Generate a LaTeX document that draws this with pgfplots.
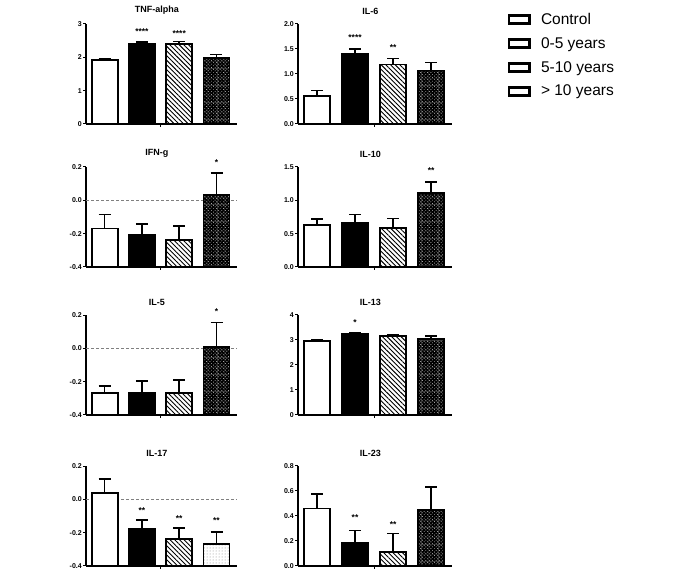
\documentclass[border=0pt]{standalone}
\usepackage{fontspec}
\setmainfont{Liberation Sans}
\usepackage{pgfplots}
\pgfplotsset{compat=1.18}
\usepackage{pgfplotstable}
\usetikzlibrary{patterns,patterns.meta}

\pgfdeclarepatternformonly{holes}{\pgfpoint{-0.1pt}{-0.1pt}}{\pgfpoint{4.1pt}{4.1pt}}{\pgfpoint{3.4pt}{3.4pt}}{%
  \pgfpathrectangle{\pgfpoint{-0.1pt}{-0.1pt}}{\pgfpoint{3.6pt}{3.6pt}}%
  \pgfpathcircle{\pgfpoint{0.85pt}{0.85pt}}{0.7pt}%
  \pgfpathcircle{\pgfpoint{2.55pt}{2.55pt}}{0.7pt}%
  \pgfseteorule
  \pgfusepath{fill}%
}

\pgfplotstableread{
x y e
1 1.91 0.06
2 2.41 0.05
3 2.40 0.08
4 1.99 0.10
}\tnf
\pgfplotstableread{
x y e
1 0.56 0.11
2 1.40 0.10
3 1.19 0.12
4 1.07 0.16
}\ilsix
\pgfplotstableread{
x y e
1 -0.169 0.084
2 -0.209 0.066
3 -0.240 0.087
4 0.034 0.131
}\ifng
\pgfplotstableread{
x y e
1 0.627 0.093
2 0.667 0.123
3 0.587 0.143
4 1.104 0.175
}\ilten
\pgfplotstableread{
x y e
1 -0.270 0.045
2 -0.270 0.073
3 -0.270 0.081
4 0.010 0.145
}\ilfive
\pgfplotstableread{
x y e
1 2.95 0.05
2 3.23 0.04
3 3.15 0.05
4 3.05 0.12
}\ilthirteen
\pgfplotstableread{
x y e
1 0.038 0.083
2 -0.177 0.052
3 -0.240 0.069
4 -0.268 0.073
}\ilseventeen
\pgfplotstableread{
x y e
1 0.46 0.115
2 0.186 0.099
3 0.115 0.145
4 0.45 0.18
}\iltwentythree

\tikzset{star/.style={font=\fontsize{8.5}{9}\selectfont\bfseries, inner sep=0pt}}
\pgfplotsset{
  panel/.style={
    scale only axis, width=151pt, height=100pt,
    anchor=south west,
    axis x line*=bottom, axis y line*=left,
    axis line style={-, line width=1.5pt},
    xmin=0.5, xmax=4.55,
    xtick={2.5}, xticklabels={},
    major tick length=3pt,
    tick style={line width=1pt, black},
    tick align=outside,
    ybar, bar width=26pt,
    yticklabel style={font=\fontsize{7}{8}\selectfont\bfseries, inner sep=1pt},
    title style={font=\fontsize{9}{10}\selectfont\bfseries, at={(0.47,1)}, anchor=south, yshift=3pt, inner sep=0pt},
    clip=false,
  },
  bb/.style={bar shift=0pt, draw=black, line width=1.8pt, forget plot,
    restrict x to domain=#1:#1,
    error bars/y dir=plus, error bars/y explicit,
    error bars/error bar style={line width=1.6pt, black, solid},
    error bars/error mark options={rotate=90, line width=1.6pt, mark size=6pt, black, solid}},
  zeroline/.style={sharp plot, densely dashed, gray, line width=0.5pt, forget plot, no markers},
  lgbox/.style={legend image code/.code={\draw[line width=2.6pt, fill=white] (0pt,-4pt) rectangle (20.4pt,4pt); \path (30pt,0pt);}},
}

\newcommand{\fourbars}[3]{%
  \addplot[bb=1, fill=white] table[x=x, y expr=\thisrow{y}+#2, y error=e]{#1};
  \addplot[bb=2, fill=black] table[x=x, y expr=\thisrow{y}+#2, y error=e]{#1};
  \addplot[bb=3, pattern={Lines[angle=-45,distance=3.3pt,line width=0.9pt]}] table[x=x, y expr=\thisrow{y}+#2, y error=e]{#1};
  \addplot[bb=4, #3] table[x=x, y expr=\thisrow{y}+#2, y error=e]{#1};
}

\begin{document}
\begin{tikzpicture}
\useasboundingbox (0pt,0pt) rectangle (685pt,575pt);

% TNF-alpha
\begin{axis}[panel, at={(86pt,451pt)}, title={TNF-alpha},
  ymin=0, ymax=3, ytick={0,1,2,3}, yticklabels={0,1,2,3},
  legend style={at={(axis description cs:2.79,1.13)}, anchor=north west, draw=none, fill=none,
    font=\fontsize{15.5}{17}\selectfont, row sep=7.5pt, cells={anchor=west}, inner sep=0pt},
]
\fourbars{\tnf}{0}{pattern=holes}
\node[star] at (axis cs:2,2.77) {****};
\node[star] at (axis cs:3,2.71) {****};
\addlegendimage{lgbox}
\addlegendentry{Control}
\addlegendimage{lgbox}
\addlegendentry{0-5 years}
\addlegendimage{lgbox}
\addlegendentry{5-10 years}
\addlegendimage{lgbox}
\addlegendentry{> 10 years}
\end{axis}

% IL-6
\begin{axis}[panel, at={(298pt,451pt)}, width=154pt, title={IL-6},
  ymin=0, ymax=2, ytick={0,0.5,1,1.5,2}, yticklabels={0.0,0.5,1.0,1.5,2.0}]
\fourbars{\ilsix}{0}{pattern=holes}
\node[star] at (axis cs:2,1.73) {****};
\node[star] at (axis cs:3,1.53) {**};
\end{axis}

% IFN-g
\begin{axis}[panel, at={(86pt,308pt)}, title={IFN-g},
  ymin=0, ymax=0.6, ytick={0,0.2,0.4,0.6}, yticklabels={-0.4,-0.2,0.0,0.2}]
\addplot[zeroline] coordinates {(0.5,0.4) (4.55,0.4)};
\fourbars{\ifng}{0.4}{pattern=holes}
\node[star] at (axis cs:4,0.625) {*};
\end{axis}

% IL-10
\begin{axis}[panel, at={(298pt,308pt)}, width=154pt, title={IL-10},
  ymin=0, ymax=1.5, ytick={0,0.5,1,1.5}, yticklabels={0.0,0.5,1.0,1.5}]
\fourbars{\ilten}{0}{pattern=holes}
\node[star] at (axis cs:4,1.45) {**};
\end{axis}

% IL-5
\begin{axis}[panel, at={(86pt,160pt)}, title={IL-5},
  ymin=0, ymax=0.6, ytick={0,0.2,0.4,0.6}, yticklabels={-0.4,-0.2,0.0,0.2}]
\addplot[zeroline] coordinates {(0.5,0.4) (4.55,0.4)};
\fourbars{\ilfive}{0.4}{pattern=holes}
\node[star] at (axis cs:4,0.62) {*};
\end{axis}

% IL-13
\begin{axis}[panel, at={(298pt,160pt)}, width=154pt, title={IL-13},
  ymin=0, ymax=4, ytick={0,1,2,3,4}, yticklabels={0,1,2,3,4}]
\fourbars{\ilthirteen}{0}{pattern=holes}
\node[star] at (axis cs:2,3.70) {*};
\end{axis}

% IL-17
\begin{axis}[panel, at={(86pt,9pt)}, title={IL-17},
  ymin=0, ymax=0.6, ytick={0,0.2,0.4,0.6}, yticklabels={-0.4,-0.2,0.0,0.2}]
\addplot[zeroline] coordinates {(0.5,0.4) (4.55,0.4)};
\fourbars{\ilseventeen}{0.4}{pattern=dots, pattern color=gray}
\node[star] at (axis cs:2,0.332) {**};
\node[star] at (axis cs:3,0.283) {**};
\node[star] at (axis cs:4,0.273) {**};
\end{axis}

% IL-23
\begin{axis}[panel, at={(298pt,9pt)}, width=154pt, title={IL-23},
  ymin=0, ymax=0.8, ytick={0,0.2,0.4,0.6,0.8}, yticklabels={0.0,0.2,0.4,0.6,0.8}]
\fourbars{\iltwentythree}{0}{pattern=holes}
\node[star] at (axis cs:2,0.39) {**};
\node[star] at (axis cs:3,0.33) {**};
\end{axis}
\end{tikzpicture}
\end{document}
